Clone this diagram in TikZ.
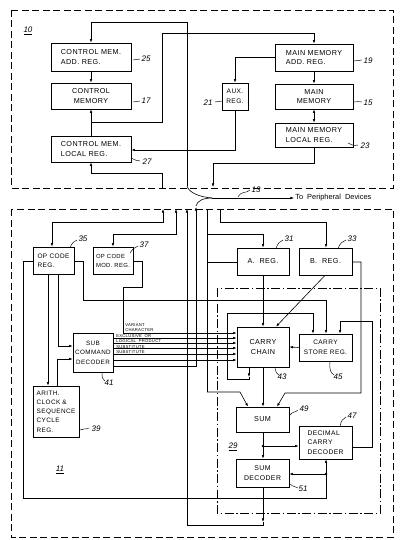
\documentclass[tikz,border=0pt]{standalone}
\usepackage{fontspec}
\setmainfont{Liberation Sans}
\newfontfamily\pf{Liberation Sans}[LetterSpace=6]
\usetikzlibrary{arrows.meta}
\begin{document}
\begin{tikzpicture}[x=1pt,y=-1pt,
  line width=0.6pt,
  blk/.style={draw, line width=0.75pt, inner sep=0.8pt, align=center, font=\pf\fontsize{7.2}{9.8}\selectfont},
  arr/.style={-{Latex[length=3.6pt,width=2.6pt]}},
  darr/.style={{Latex[length=3.6pt,width=2.6pt]}-{Latex[length=3.6pt,width=2.6pt]}},
  num/.style={font=\itshape\fontsize{8}{8}\selectfont, inner sep=0.5pt},
  lead/.style={line width=0.45pt},
  outer/.style={dash pattern=on 7pt off 3.5pt, line width=0.7pt},
  dashdot/.style={dash pattern=on 9pt off 2.5pt on 1.5pt off 2.5pt, line width=0.6pt},
  small/.style={font=\pf\fontsize{4.2}{4.6}\selectfont, inner sep=0pt, anchor=south west, align=left},
]
\fill[white] (0,0) rectangle (401,540);
\useasboundingbox (0,0) rectangle (401,540);

% dashed enclosures
\draw[outer] (11,10) rectangle (393,188);
\draw[outer] (11,209) rectangle (393,537);
\draw[dashdot] (217,288) rectangle (380,513);

% ---------- top section boxes ----------
\node[blk, minimum width=80, minimum height=28, align=left] (cmar) at (91,57) {CONTROL\ MEM.\\ADD.\ REG.};
\node[blk, minimum width=80, minimum height=26] (cm) at (91,96) {CONTROL\\MEMORY};
\node[blk, minimum width=80, minimum height=26, align=left] (cmlr) at (91,149) {CONTROL\ MEM.\\LOCAL\ REG.};
\node[blk, minimum width=26, minimum height=27, inner sep=0.3pt, font=\pf\fontsize{6.6}{9.5}\selectfont] (aux) at (235,96.5) {AUX.\\REG.};
\node[blk, minimum width=78, minimum height=27, align=left] (mmar) at (314,57.5) {MAIN\ MEMORY\\ADD.\ REG.};
\node[blk, minimum width=78, minimum height=25] (mm) at (314,96.5) {MAIN\\MEMORY};
\node[blk, minimum width=78, minimum height=24, align=left] (mmlr) at (314,135) {MAIN\ MEMORY\\LOCAL\ REG.};

% ---------- bottom section boxes ----------
\node[blk, minimum width=41, minimum height=27, align=left, font=\pf\fontsize{6.5}{9}\selectfont] (opc) at (53.5,260.5) {OP CODE\\REG.};
\node[blk, minimum width=40, minimum height=27, align=left, inner sep=0.3pt, font=\pf\fontsize{5.9}{9}\selectfont] (opm) at (113,260.5) {OP CODE\\MOD. REG.};
\node[blk, minimum width=52, minimum height=27] (areg) at (263,261.5) {A.\ \ REG.};
\node[blk, minimum width=53, minimum height=27] (breg) at (325.5,261.5) {B.\ \ REG.};
\node[blk, minimum width=40, minimum height=39, inner sep=0.3pt, font=\pf\fontsize{6.3}{9.5}\selectfont] (subc) at (93,352.5) {SUB\\COMMAND\\DECODER};
\node[blk, minimum width=46, minimum height=51, align=left, font=\pf\fontsize{6.4}{9.3}\selectfont] (arith) at (56,411.5) {ARITH.\\CLOCK \&\\SEQUENCE\\CYCLE\\REG.};
\node[blk, minimum width=52, minimum height=40] (cc) at (263,347) {CARRY\\CHAIN};
\node[blk, minimum width=53, minimum height=27, inner sep=0.3pt, font=\pf\fontsize{6.5}{9.5}\selectfont] (csr) at (325.5,347.5) {CARRY\\STORE REG.};
\node[blk, minimum width=53, minimum height=25] (sum) at (262.5,419.5) {SUM};
\node[blk, minimum width=53, minimum height=33, align=left, font=\pf\fontsize{6.7}{9.3}\selectfont] (dcd) at (325.5,442.5) {DECIMAL\\CARRY\\DECODER};
\node[blk, minimum width=53, minimum height=28, font=\pf\fontsize{6.9}{9.5}\selectfont] (sdec) at (262.5,473) {SUM\\DECODER};

% ---------- top section connectors ----------
\draw[arr] (187,186) -- (187,22) -- (91,22) -- (cmar.north);
\draw[arr] (cmar.south) -- (cm.north);
\draw[arr] (cmlr.north) -- (cm.south);
\draw[arr] (91,122) -- (162,122) -- (162,33) -- (314,33) -- (mmar.north);
\draw[arr] (162,188) -- (162,173) -- (91,173) -- (cmlr.south);
\draw[arr] (aux.south) -- (235,150) -- (cmlr.east |- 0,150);
\draw[arr] (mmar.west |- 0,57) -- (235,57) -- (aux.north);
\draw[arr] (mmar.south) -- (mm.north);
\draw[darr] (mm.south) -- (mmlr.north);
\draw[arr] (mmlr.south) -- (314,163) -- (213,163) -- (213,187);

% ---------- bus 13 ----------
\coordinate (busj) at (212,198);
\node[anchor=west, font=\fontsize{7.4}{8}\selectfont, inner sep=1pt] (periph) at (294,198) {To\ \ Peripheral\ \ Devices};
\draw[arr] (busj) -- (periph.west);
\draw (187,186) .. controls (189,193) and (200,197) .. (busj);
\draw (196,206) .. controls (197,201) and (203,198) .. (busj);
\draw[lead] (238,197) .. controls (242,190) and (246,194) .. (250,190);
\node[num] (l13) at (256,190) {13};

% ---------- bottom section connectors ----------
\draw[darr] (163,209) -- (163,222) -- (52,222) -- (52,0 |- opc.north);
\draw[darr] (176,209) -- (176,234) -- (113,234) -- (opm.north);
\draw (207,209) -- (207,392);
\draw[arr] (207,234) -- (263,234) -- (areg.north);
\draw (areg.west |- 0,262) -- (207,262);
\draw[arr] (207,392) -- (240,392) -- (248,0 |- sum.north);
\draw[arr] (220,209) -- (220,222) -- (326,222) -- (326,0 |- breg.north);
\draw[arr] (breg.east |- 0,262) -- (361,262) -- (361,393) -- (285,393) -- (277,0 |- sum.north);
\draw[arr] (areg.south) -- (cc.north);
\draw[arr] (325,0 |- breg.south) -- (276,0 |- cc.north);
\draw[arr] (csr.west) -- (cc.east);
\draw[arr] (opc.east |- 0,261) -- (83,261) -- (83,300) -- (326,300) -- (326,0 |- csr.north);
\draw[arr] (249,0 |- cc.south) -- (249,377);
\draw[arr] (249,377) -- (249,379) -- (227,379) -- (227,313) -- (313,313) -- (313,0 |- csr.north);
\draw[arr] (dcd.east |- 0,447) -- (372,447) -- (372,321) -- (340,321) -- (340,0 |- csr.north);
\draw[arr] (263,0 |- cc.south) -- (263,0 |- sum.north);
\draw[arr] (263,0 |- sum.south) -- (263,0 |- sdec.north);
\fill (263,446) circle (1.3);
\draw[arr] (263,446) -- (dcd.west |- 0,446);
\draw[arr] (263,0 |- sdec.south) -- (263,522);
\draw[arr] (263,522) -- (263,525) -- (187,525) -- (187,209);
\draw[arr] (opc.west |- 0,261) -- (23,261) -- (23,498) -- (326,498) -- (326,0 |- dcd.south);
\fill (326,474) circle (1.3);
\draw[arr] (326,474) -- (sdec.east |- 0,474);
\draw[arr] (48,0 |- opc.south) -- (48,0 |- arith.north);
\draw[arr] (58,0 |- opc.south) -- (58,346) -- (subc.west |- 0,346);
\draw[arr] (57,0 |- arith.north) -- (57,359) -- (subc.west |- 0,359);
\draw[arr] (opm.east |- 0,261) -- (142,261) -- (142,287) -- (123,287) -- (123,333) -- (cc.west |- 0,333);
\foreach \yy in {338,343,348,354,360} \draw[arr] (subc.east |- 0,\yy) -- (cc.west |- 0,\yy);
\draw[arr] (subc.east |- 0,366) -- (196,366) -- (196,207);

% small signal labels
\node[small] (tvar) at (125,331.5) {VARIANT\\CHARACTER};
\node[small] (texo) at (116,337.5) {EXCLUSIVE\ \ OR};
\node[small] (tlog) at (116,343) {LOGICAL\ \ PRODUCT};
\node[small] (tsub1) at (116,348.5) {SUBSTITUTE};
\node[small] (tsub2) at (116,354) {SUBSTITUTE};

% ---------- reference numerals ----------
\node[num] (l10) at (28,31) {\underline{10}};
\node[num] (l11) at (60,470) {\underline{11}};
\node[num] (l29) at (233,447) {\underline{29}};

\draw[lead] (133,60) .. controls (136,58) and (137,61) .. (140,59);
\node[num] (l25) at (146,59) {25};
\draw[lead] (133,102) .. controls (136,100) and (137,103) .. (140,101);
\node[num] (l17) at (146,101) {17};
\draw[lead] (131,158) .. controls (135,160) and (137,161) .. (140,161);
\node[num] (l27) at (147,162) {27};
\draw[lead] (215,102) .. controls (218,100) and (219,103) .. (222,101);
\node[num] (l21) at (208,103) {21};
\draw[lead] (354,61) .. controls (357,59) and (359,62) .. (362,60);
\node[num] (l19) at (368,61) {19};
\draw[lead] (354,102) .. controls (357,100) and (359,103) .. (362,102);
\node[num] (l15) at (368,103) {15};
\draw[lead] (348,143) .. controls (352,145) and (354,146) .. (358,145);
\node[num] (l23) at (365,146) {23};

\draw[lead] (70,248) .. controls (72,242) and (74,242) .. (77,240);
\node[num] (l35) at (83,239) {35};
\draw[lead] (130,253) .. controls (133,248) and (135,248) .. (138,246);
\node[num] (l37) at (144,245) {37};
\draw[lead] (276,249) .. controls (278,242) and (280,242) .. (283,240);
\node[num] (l31) at (289,239) {31};
\draw[lead] (338,249) .. controls (340,242) and (343,242) .. (346,240);
\node[num] (l33) at (352,239) {33};
\draw[lead] (102,373) .. controls (102,378) and (103,380) .. (105,381);
\node[num] (l41) at (109,383) {41};
\draw[lead] (80,430) .. controls (83,428) and (85,430) .. (89,428);
\node[num] (l39) at (96,429) {39};
\draw[lead] (275,368) .. controls (276,373) and (277,374) .. (279,375);
\node[num] (l43) at (282,377) {43};
\draw[lead] (330,362) .. controls (329,370) and (331,373) .. (334,375);
\node[num] (l45) at (338,377) {45};
\draw[lead] (290,415) .. controls (293,411) and (295,413) .. (298,410);
\node[num] (l49) at (304,409) {49};
\draw[lead] (340,427) .. controls (341,420) and (343,419) .. (346,417);
\node[num] (l47) at (352,416) {47};
\draw[lead] (290,484) .. controls (293,487) and (295,486) .. (298,488);
\node[num] (l51) at (303,489) {51};
\end{tikzpicture}
\end{document}
